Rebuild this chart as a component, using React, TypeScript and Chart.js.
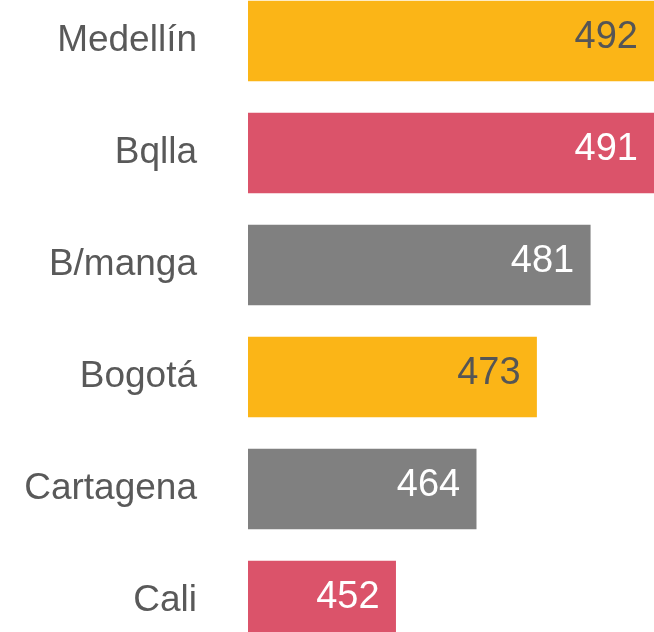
import React, { useEffect, useRef } from "react";
import { Chart, registerables } from "chart.js";

Chart.register(...registerables);

const categories = ["Medellín", "Bqlla", "B/manga", "Bogotá", "Cartagena", "Cali"];
const values = [492, 491, 481, 473, 464, 452];
const barColors = ["#FBB517", "#DB536A", "#808080", "#FBB517", "#808080", "#DB536A"];
const valueLabelColors = ["#555555", "#FFFFFF", "#FFFFFF", "#555555", "#FFFFFF", "#FFFFFF"];

const FONT = "'Liberation Sans', Helvetica, Arial, sans-serif";

const valueLabelPlugin = {
  id: "valueLabels",
  afterDatasetsDraw(chart: any) {
    const { ctx, chartArea } = chart;
    const meta = chart.getDatasetMeta(0);
    ctx.save();
    ctx.font = `38px ${FONT}`;
    ctx.textAlign = "right";
    ctx.textBaseline = "middle";
    meta.data.forEach((el: any, i: number) => {
      const x = Math.min(el.x, chartArea.right) - 16;
      ctx.fillStyle = valueLabelColors[i];
      ctx.fillText(String(values[i]), x, el.y - 3);
    });
    ctx.restore();
  },
};

export default function App() {
  const ref = useRef<HTMLCanvasElement | null>(null);
  useEffect(() => {
    document.body.style.margin = "0";
    if (!ref.current) return;
    const chart = new Chart(ref.current, {
      type: "bar",
      data: {
        labels: categories,
        datasets: [
          {
            data: values,
            backgroundColor: barColors,
            borderWidth: 0,
            barThickness: 80,
            clip: { left: 0, right: 0, top: false, bottom: false } as any,
          },
        ],
      },
      options: {
        indexAxis: "y",
        animation: false,
        responsive: false,
        maintainAspectRatio: false,
        layout: { padding: { top: 41, bottom: 31, left: 0, right: 0 } },
        plugins: {
          legend: { display: false },
          tooltip: { enabled: false },
        },
        scales: {
          x: {
            display: false,
            min: 430,
            max: 490.5,
          },
          y: {
            offset: false,
            grid: { display: false, drawTicks: false, offset: false },
            border: { display: false },
            afterFit: (scale: any) => {
              scale.width = 248;
              scale.paddingTop = 0;
              scale.paddingBottom = 0;
            },
            ticks: {
              padding: 51,
              color: "#595959",
              font: { family: FONT, size: 37 },
            },
          },
        },
      },
      plugins: [valueLabelPlugin],
    });
    return () => chart.destroy();
  }, []);
  return (
    <div style={{ width: 654, height: 632 }}>
      <canvas ref={ref} width={654} height={632} style={{ display: "block" }} />
    </div>
  );
}
